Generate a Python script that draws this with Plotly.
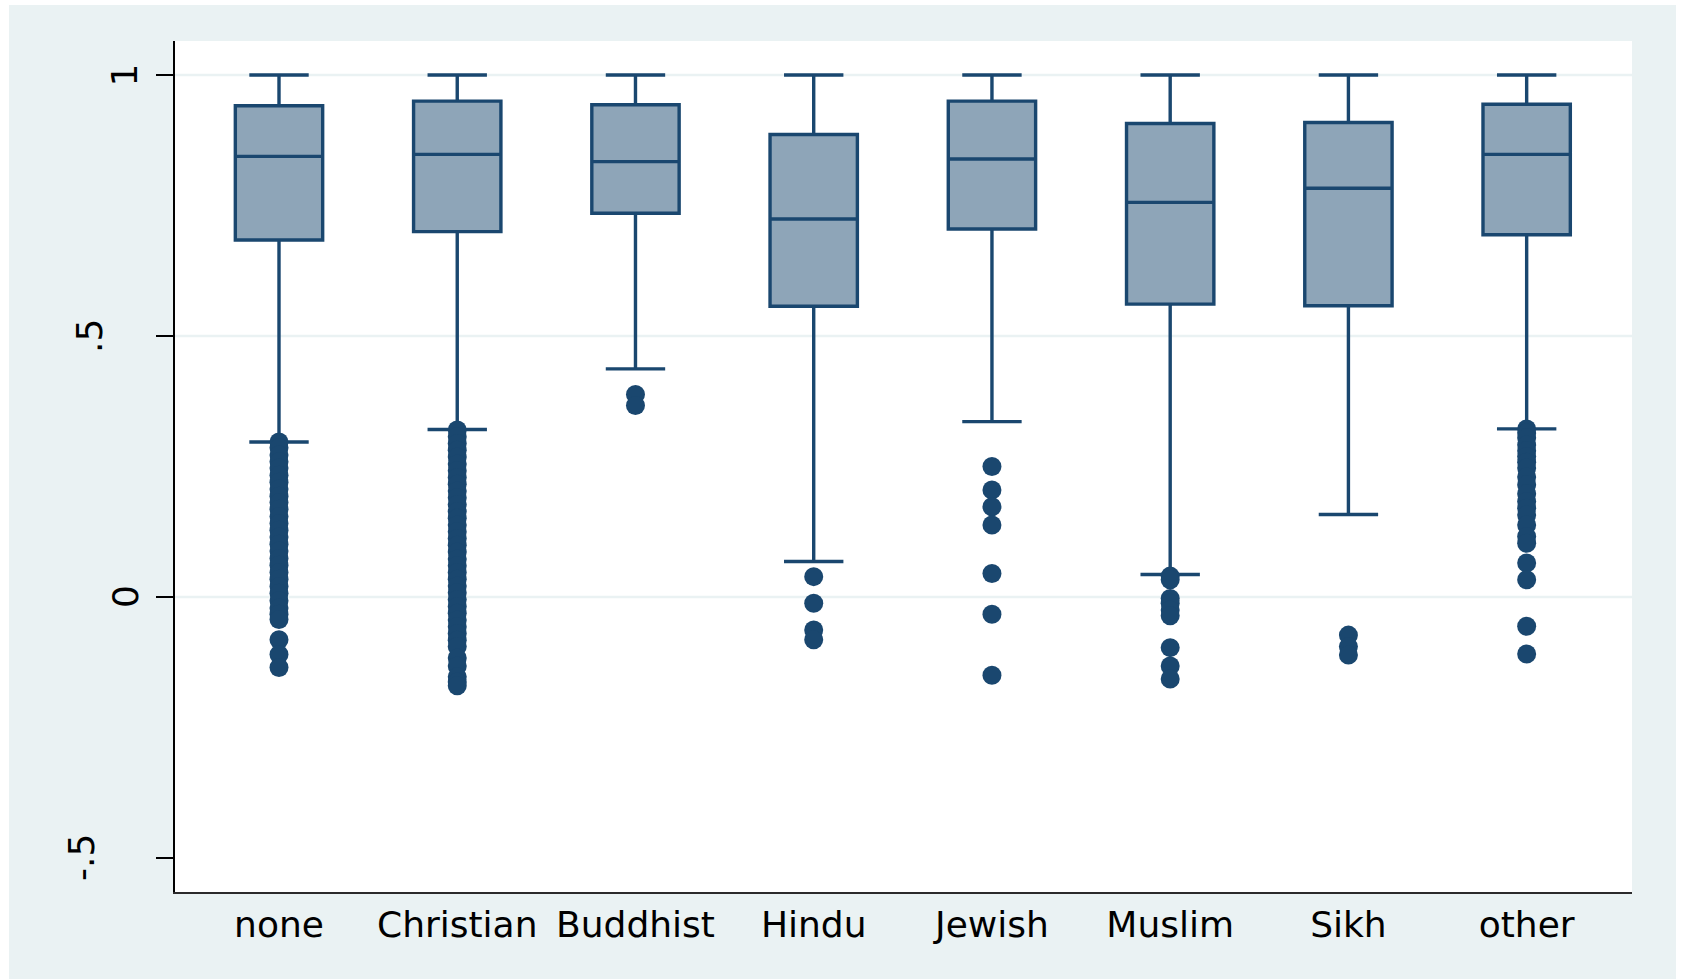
import plotly.graph_objects as go

# Groups and box statistics
categories = ["none", "Christian", "Buddhist", "Hindu", "Jewish", "Muslim", "Sikh", "other"]
q1 = [0.684, 0.700, 0.735, 0.557, 0.705, 0.561, 0.558, 0.694]
median = [0.844, 0.848, 0.834, 0.724, 0.839, 0.756, 0.783, 0.848]
q3 = [0.941, 0.950, 0.943, 0.886, 0.950, 0.907, 0.909, 0.944]
upper_adjacent = [1.0, 1.0, 1.0, 1.0, 1.0, 1.0, 1.0, 1.0]
lower_adjacent = [0.297, 0.321, 0.437, 0.068, 0.336, 0.043, 0.158, 0.322]

# Outside values per group
outliers_none = [0.297, 0.286, 0.272, 0.259, 0.247, 0.233, 0.220, 0.207, 0.193, 0.181,
                 0.168, 0.154, 0.141, 0.128, 0.115, 0.101, 0.088, 0.074, 0.061, 0.047,
                 0.034, 0.020, 0.007, -0.007, -0.021, -0.033, -0.043, -0.082, -0.110, -0.135]
outliers_christian = [0.320, 0.307, 0.294, 0.281, 0.268, 0.255, 0.242, 0.229, 0.216, 0.203,
                      0.190, 0.177, 0.164, 0.151, 0.138, 0.125, 0.112, 0.099, 0.086, 0.073,
                      0.060, 0.047, 0.034, 0.021, 0.008, -0.005, -0.018, -0.031, -0.044,
                      -0.057, -0.070, -0.083, -0.095, -0.117, -0.132, -0.153, -0.163, -0.170]
outliers_buddhist = [0.388, 0.367]
outliers_hindu = [0.039, -0.012, -0.063, -0.082]
outliers_jewish = [0.250, 0.205, 0.173, 0.138, 0.045, -0.033, -0.150]
outliers_muslim = [0.040, 0.033, -0.003, -0.012, -0.025, -0.036, -0.097, -0.132, -0.157]
outliers_sikh = [-0.073, -0.095, -0.111]
outliers_other = [0.322, 0.314, 0.305, 0.291, 0.280, 0.269, 0.258, 0.247, 0.230, 0.215,
                  0.198, 0.183, 0.170, 0.157, 0.138, 0.116, 0.103, 0.065, 0.033, -0.056, -0.109]

outlier_groups = [outliers_none, outliers_christian, outliers_buddhist, outliers_hindu,
                  outliers_jewish, outliers_muslim, outliers_sikh, outliers_other]

# Y axis ticks and grid
y_tickvals = [-0.5, 0, 0.5, 1]
y_ticktext = ["-.5", "0", ".5", "1"]
grid_values = [0, 0.5, 1]

NAVY = "#1a476f"
BOX_FILL = "#8ea5b8"
REGION = "#eaf2f3"
FONT = "DejaVu Sans"

W, H = 1681, 979
ML, MR, MT, MB = 175, 49, 41, 87
PW, PH = W - ML - MR, H - MT - MB

# horizontal pixel centres of the rotated y labels
y_label_px = [81, 125, 90, 124.5]

fig = go.Figure()

fig.add_trace(go.Box(
    x=categories,
    q1=q1, median=median, q3=q3,
    lowerfence=lower_adjacent, upperfence=upper_adjacent,
    boxpoints=False,
    width=0.49,
    whiskerwidth=0.68,
    fillcolor=BOX_FILL,
    line=dict(color=NAVY, width=3.4),
    showlegend=False,
    hoverinfo="skip",
))

ox, oy = [], []
for cat, vals in zip(categories, outlier_groups):
    ox.extend([cat] * len(vals))
    oy.extend(vals)

fig.add_trace(go.Scatter(
    x=ox, y=oy, mode="markers",
    marker=dict(color=NAVY, size=19, line=dict(width=0)),
    showlegend=False, hoverinfo="skip",
))

# Graph region (light) and plot region (white)
shapes = [
    dict(type="rect", xref="paper", yref="paper", layer="below",
         x0=(9 - ML) / PW, x1=(1676 - ML) / PW,
         y0=(MT + PH - H) / PH, y1=(MT + PH - 5) / PH,
         fillcolor=REGION, line=dict(width=0)),
    dict(type="rect", xref="paper", yref="paper", layer="below",
         x0=0, x1=1, y0=0, y1=1, fillcolor="white", line=dict(width=0)),
]
for g in grid_values:
    shapes.append(dict(type="line", xref="paper", yref="y", layer="below",
                       x0=0, x1=1, y0=g, y1=g,
                       line=dict(color=REGION, width=2.5)))

# Rotated y tick labels
annotations = []
for val, txt, px in zip(y_tickvals, y_ticktext, y_label_px):
    annotations.append(dict(
        xref="paper", yref="y", x=(px - ML) / PW, y=val,
        text=txt, textangle=-90, showarrow=False,
        xanchor="center", yanchor="middle",
        font=dict(family=FONT, size=36, color="black"),
    ))

fig.update_layout(
    width=W, height=H, autosize=False,
    margin=dict(l=ML, r=MR, t=MT, b=MB, pad=0),
    paper_bgcolor="white",
    plot_bgcolor="white",
    shapes=shapes,
    annotations=annotations,
    font=dict(family=FONT, color="black"),
    xaxis=dict(
        type="category",
        categoryorder="array", categoryarray=categories,
        range=[-0.5835, 7.591],
        showline=True, linecolor="#2b2b2b", linewidth=2,
        ticks="", showgrid=False, zeroline=False,
        tickfont=dict(family=FONT, size=36, color="black"),
        ticklabelstandoff=0,
    ),
    yaxis=dict(
        range=[-0.5651, 1.0651],
        tickvals=y_tickvals,
        showticklabels=False,
        ticks="outside", ticklen=17, tickwidth=1.5, tickcolor="black",
        showline=True, linecolor="black", linewidth=2,
        showgrid=False, zeroline=False,
    ),
)

fig.write_html("out.html")
